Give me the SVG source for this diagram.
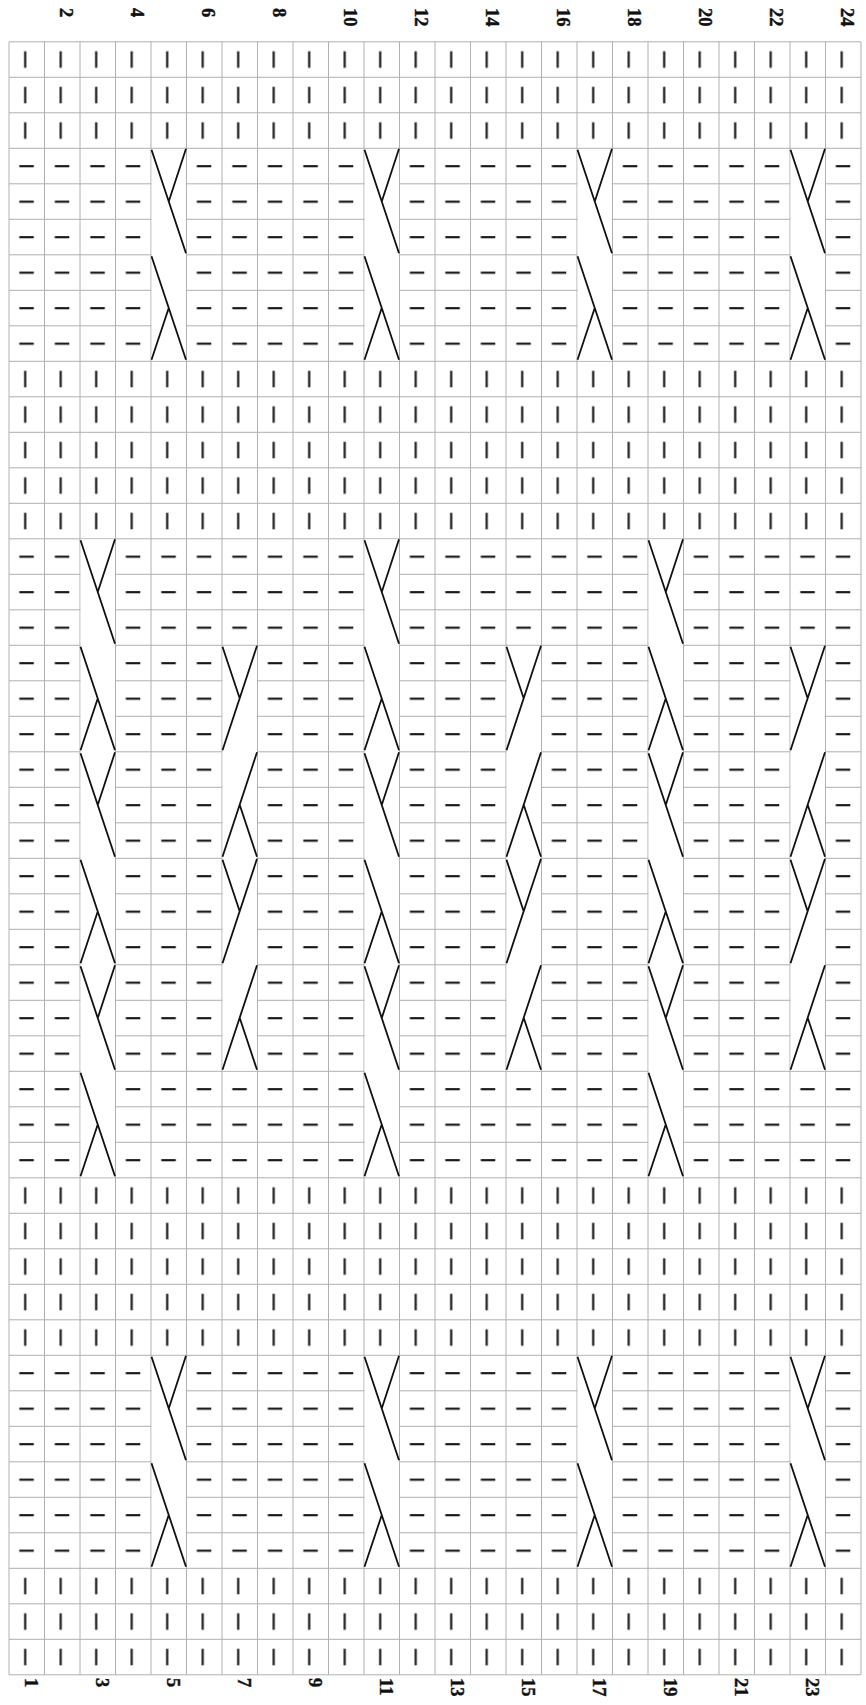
<svg xmlns="http://www.w3.org/2000/svg" xmlns:xlink="http://www.w3.org/1999/xlink" width="866" height="1705" viewBox="0 0 866 1705">
<style>
.lbl{font-family:"Liberation Serif","Times New Roman",serif;font-weight:bold;font-size:18.5px;fill:#111;stroke:#111;stroke-width:0.4}
.grid{stroke:#b0b0b0;stroke-width:1;fill:none}
.sym{stroke:#1a1a1a;stroke-width:2.2;fill:none}
.blank{fill:#ffffff}
</style>
<defs>
<pattern id="bar" patternUnits="userSpaceOnUse" x="9" y="41.8" width="35.5" height="35.5">
<line class="sym" x1="16.2" y1="9.5" x2="16.2" y2="26"/>
</pattern>
<pattern id="dash" patternUnits="userSpaceOnUse" x="9" y="41.8" width="35.5" height="35.5">
<line class="sym" x1="10.3" y1="17.9" x2="24.8" y2="17.9"/>
</pattern>
<g id="cA"><path d="M0.5 1.5L35 105M35 0.5L17.75 53.25"/></g>
<g id="cB"><path d="M0.5 1.5L35 105M17.75 53.25L0.5 105"/></g>
<g id="cC"><path d="M35 0.5L0.5 105M0.5 1.5L17.75 53.25"/></g>
<g id="cD"><path d="M35 0.5L0.5 105M17.75 53.25L35 105"/></g>
</defs>
<rect width="866" height="1705" fill="#ffffff"/>
<g id="stitches">
<rect x="9" y="41.8" width="852" height="106.5" fill="url(#bar)"/>
<rect x="9" y="148.3" width="852" height="213" fill="url(#dash)"/>
<rect x="9" y="361.3" width="852" height="177.5" fill="url(#bar)"/>
<rect x="9" y="538.8" width="852" height="639" fill="url(#dash)"/>
<rect x="9" y="1177.8" width="852" height="177.5" fill="url(#bar)"/>
<rect x="9" y="1355.3" width="852" height="213" fill="url(#dash)"/>
<rect x="9" y="1568.3" width="852" height="106.5" fill="url(#bar)"/>
</g>
<g id="grid">
<path class="grid" d="M9 41.8H861M9 77.3H861M9 112.8H861M9 148.3H861M9 183.8H861M9 219.3H861M9 254.8H861M9 290.3H861M9 325.8H861M9 361.3H861M9 396.8H861M9 432.3H861M9 467.8H861M9 503.3H861M9 538.8H861M9 574.3H861M9 609.8H861M9 645.3H861M9 680.8H861M9 716.3H861M9 751.8H861M9 787.3H861M9 822.8H861M9 858.3H861M9 893.8H861M9 929.3H861M9 964.8H861M9 1000.3H861M9 1035.8H861M9 1071.3H861M9 1106.8H861M9 1142.3H861M9 1177.8H861M9 1213.3H861M9 1248.8H861M9 1284.3H861M9 1319.8H861M9 1355.3H861M9 1390.8H861M9 1426.3H861M9 1461.8H861M9 1497.3H861M9 1532.8H861M9 1568.3H861M9 1603.8H861M9 1639.3H861M9 1674.8H861
M9 41.8V1674.8M44.5 41.8V1674.8M80 41.8V1674.8M115.5 41.8V1674.8M151 41.8V1674.8M186.5 41.8V1674.8M222 41.8V1674.8M257.5 41.8V1674.8M293 41.8V1674.8M328.5 41.8V1674.8M364 41.8V1674.8M399.5 41.8V1674.8M435 41.8V1674.8M470.5 41.8V1674.8M506 41.8V1674.8M541.5 41.8V1674.8M577 41.8V1674.8M612.5 41.8V1674.8M648 41.8V1674.8M683.5 41.8V1674.8M719 41.8V1674.8M754.5 41.8V1674.8M790 41.8V1674.8M825.5 41.8V1674.8M861 41.8V1674.8"/>
</g>
<g id="blanks">
<rect class="blank" x="151.6" y="148.9" width="34.3" height="211.8"/>
<rect class="blank" x="364.6" y="148.9" width="34.3" height="211.8"/>
<rect class="blank" x="577.6" y="148.9" width="34.3" height="211.8"/>
<rect class="blank" x="790.6" y="148.9" width="34.3" height="211.8"/>
<rect class="blank" x="80.6" y="539.4" width="34.3" height="637.8"/>
<rect class="blank" x="364.6" y="539.4" width="34.3" height="637.8"/>
<rect class="blank" x="648.6" y="539.4" width="34.3" height="637.8"/>
<rect class="blank" x="222.6" y="645.9" width="34.3" height="424.8"/>
<rect class="blank" x="506.6" y="645.9" width="34.3" height="424.8"/>
<rect class="blank" x="790.6" y="645.9" width="34.3" height="424.8"/>
<rect class="blank" x="151.6" y="1355.9" width="34.3" height="211.8"/>
<rect class="blank" x="364.6" y="1355.9" width="34.3" height="211.8"/>
<rect class="blank" x="577.6" y="1355.9" width="34.3" height="211.8"/>
<rect class="blank" x="790.6" y="1355.9" width="34.3" height="211.8"/>
</g>
<g id="cables" stroke="#111111" stroke-width="1.8" fill="none">
<use xlink:href="#cA" x="151" y="148.3"/><use xlink:href="#cB" x="151" y="254.8"/>
<use xlink:href="#cA" x="364" y="148.3"/><use xlink:href="#cB" x="364" y="254.8"/>
<use xlink:href="#cA" x="577" y="148.3"/><use xlink:href="#cB" x="577" y="254.8"/>
<use xlink:href="#cA" x="790" y="148.3"/><use xlink:href="#cB" x="790" y="254.8"/>
<use xlink:href="#cA" x="80" y="538.8"/><use xlink:href="#cB" x="80" y="645.3"/><use xlink:href="#cA" x="80" y="751.8"/><use xlink:href="#cB" x="80" y="858.3"/><use xlink:href="#cA" x="80" y="964.8"/><use xlink:href="#cB" x="80" y="1071.3"/>
<use xlink:href="#cA" x="364" y="538.8"/><use xlink:href="#cB" x="364" y="645.3"/><use xlink:href="#cA" x="364" y="751.8"/><use xlink:href="#cB" x="364" y="858.3"/><use xlink:href="#cA" x="364" y="964.8"/><use xlink:href="#cB" x="364" y="1071.3"/>
<use xlink:href="#cA" x="648" y="538.8"/><use xlink:href="#cB" x="648" y="645.3"/><use xlink:href="#cA" x="648" y="751.8"/><use xlink:href="#cB" x="648" y="858.3"/><use xlink:href="#cA" x="648" y="964.8"/><use xlink:href="#cB" x="648" y="1071.3"/>
<use xlink:href="#cC" x="222" y="645.3"/><use xlink:href="#cD" x="222" y="751.8"/><use xlink:href="#cC" x="222" y="858.3"/><use xlink:href="#cD" x="222" y="964.8"/>
<use xlink:href="#cC" x="506" y="645.3"/><use xlink:href="#cD" x="506" y="751.8"/><use xlink:href="#cC" x="506" y="858.3"/><use xlink:href="#cD" x="506" y="964.8"/>
<use xlink:href="#cC" x="790" y="645.3"/><use xlink:href="#cD" x="790" y="751.8"/><use xlink:href="#cC" x="790" y="858.3"/><use xlink:href="#cD" x="790" y="964.8"/>
<use xlink:href="#cA" x="151" y="1355.3"/><use xlink:href="#cB" x="151" y="1461.8"/>
<use xlink:href="#cA" x="364" y="1355.3"/><use xlink:href="#cB" x="364" y="1461.8"/>
<use xlink:href="#cA" x="577" y="1355.3"/><use xlink:href="#cB" x="577" y="1461.8"/>
<use xlink:href="#cA" x="790" y="1355.3"/><use xlink:href="#cB" x="790" y="1461.8"/>
</g>
<g id="labels-top">
<text class="lbl" transform="translate(60,8) rotate(90)">2</text>
<text class="lbl" transform="translate(131,8) rotate(90)">4</text>
<text class="lbl" transform="translate(202,8) rotate(90)">6</text>
<text class="lbl" transform="translate(273,8) rotate(90)">8</text>
<text class="lbl" transform="translate(344,8) rotate(90)">10</text>
<text class="lbl" transform="translate(415,8) rotate(90)">12</text>
<text class="lbl" transform="translate(486,8) rotate(90)">14</text>
<text class="lbl" transform="translate(557,8) rotate(90)">16</text>
<text class="lbl" transform="translate(628,8) rotate(90)">18</text>
<text class="lbl" transform="translate(699,8) rotate(90)">20</text>
<text class="lbl" transform="translate(770,8) rotate(90)">22</text>
<text class="lbl" transform="translate(841,8) rotate(90)">24</text>
</g>
<g id="labels-bottom">
<text class="lbl" transform="translate(24.5,1678) rotate(90)">1</text>
<text class="lbl" transform="translate(95.5,1678) rotate(90)">3</text>
<text class="lbl" transform="translate(166.5,1678) rotate(90)">5</text>
<text class="lbl" transform="translate(237.5,1678) rotate(90)">7</text>
<text class="lbl" transform="translate(308.5,1678) rotate(90)">9</text>
<text class="lbl" transform="translate(379.5,1678) rotate(90)">11</text>
<text class="lbl" transform="translate(450.5,1678) rotate(90)">13</text>
<text class="lbl" transform="translate(521.5,1678) rotate(90)">15</text>
<text class="lbl" transform="translate(592.5,1678) rotate(90)">17</text>
<text class="lbl" transform="translate(663.5,1678) rotate(90)">19</text>
<text class="lbl" transform="translate(734.5,1678) rotate(90)">21</text>
<text class="lbl" transform="translate(805.5,1678) rotate(90)">23</text>
</g>
</svg>
